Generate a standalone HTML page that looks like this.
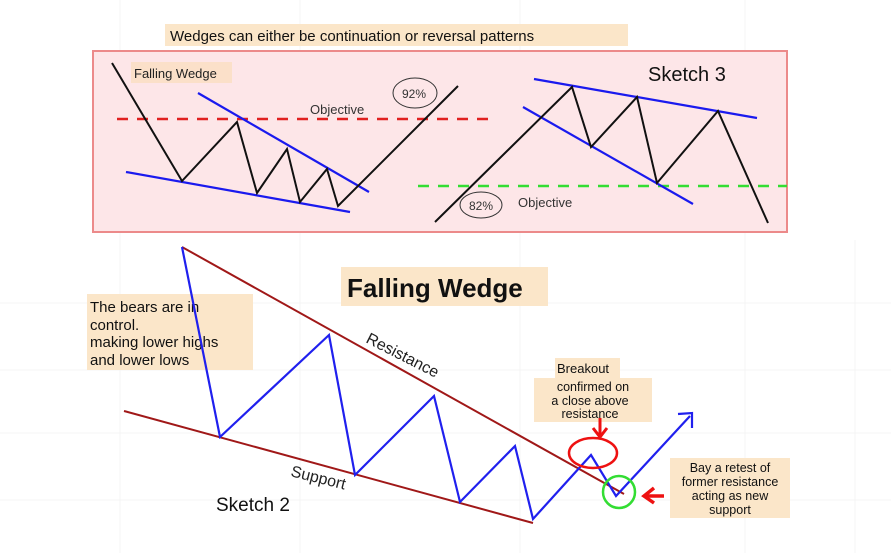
<!DOCTYPE html>
<html><head><meta charset="utf-8"><style>
body{margin:0;background:#fff;}
svg{display:block;font-family:"Liberation Sans","DejaVu Sans",sans-serif;}
</style></head><body>
<svg width="891" height="553" viewBox="0 0 891 553" xmlns="http://www.w3.org/2000/svg">
<g stroke="#f4f4f4" stroke-width="1">
<line x1="120" y1="0" x2="120" y2="553"/><line x1="300" y1="0" x2="300" y2="553"/><line x1="520" y1="0" x2="520" y2="553"/><line x1="745" y1="0" x2="745" y2="553"/><line x1="855" y1="240" x2="855" y2="553"/>
<line x1="0" y1="303" x2="891" y2="303"/><line x1="0" y1="370" x2="891" y2="370"/><line x1="0" y1="433" x2="891" y2="433"/><line x1="0" y1="500" x2="891" y2="500"/>
</g>
<rect x="165" y="24" width="463" height="22" fill="#fbe6c9"/>
<text x="170" y="41" font-size="15" fill="#111">Wedges can either be continuation or reversal patterns</text>
<rect x="93" y="51" width="694" height="181" fill="#fde6e8" stroke="#ec8a8a" stroke-width="2"/>
<rect x="131" y="62" width="101" height="21" fill="#fbe0c9"/>
<text x="134" y="78" font-size="13" fill="#222">Falling Wedge</text>
<line x1="117" y1="119" x2="488" y2="119" stroke="#e02020" stroke-width="2.5" stroke-dasharray="11,9"/>
<line x1="418" y1="186" x2="787" y2="186" stroke="#33dd33" stroke-width="2.5" stroke-dasharray="11,9"/>
<text x="310" y="114" font-size="13" fill="#333">Objective</text>
<ellipse cx="415" cy="93" rx="22" ry="15" fill="none" stroke="#333" stroke-width="1"/>
<text x="402" y="98" font-size="12" fill="#333">92%</text>
<g stroke="#1a1aee" stroke-width="2.2" fill="none">
<line x1="198" y1="93" x2="369" y2="192"/><line x1="126" y1="172" x2="350" y2="212"/>
<line x1="534" y1="79" x2="757" y2="118"/><line x1="523" y1="107" x2="693" y2="204"/>
</g>
<polyline points="112,63 182,181 237,122 257,193 287,149 300,202 327,169 338,206 458,86" fill="none" stroke="#111" stroke-width="2"/>
<polyline points="435,222 572,87 591,147 637,97 657,183 718,111 768,223" fill="none" stroke="#111" stroke-width="2"/>
<ellipse cx="481" cy="205" rx="21" ry="13" fill="none" stroke="#333" stroke-width="1"/>
<text x="469" y="210" font-size="12" fill="#333">82%</text>
<text x="518" y="207" font-size="13" fill="#333">Objective</text>
<text x="648" y="81" font-size="20" fill="#111">Sketch 3</text>

<rect x="341" y="267" width="207" height="39" fill="#fbe6c9"/>
<text x="347" y="297" font-size="26" font-weight="bold" fill="#111">Falling Wedge</text>
<rect x="87" y="294" width="166" height="76" fill="#fbe6c9"/>
<g font-size="15" fill="#111"><text x="90" y="312">The bears are in</text><text x="90" y="330">control.</text><text x="90" y="347">making lower highs</text><text x="90" y="365">and lower lows</text></g>
<line x1="182" y1="247" x2="624" y2="494" stroke="#a01818" stroke-width="2"/>
<line x1="124" y1="411" x2="533" y2="523" stroke="#a01818" stroke-width="2"/>
<polyline points="182,247 220,437 329,335 355,475 434,396 460,502 515,446 533,519 591,455 616,496 690,416" fill="none" stroke="#2020ee" stroke-width="2.2"/>
<polyline points="678,414 692,413 692,428" fill="none" stroke="#2020ee" stroke-width="2.2"/>
<text transform="translate(365,342) rotate(27)" font-size="16" fill="#222">Resistance</text>
<text transform="translate(290,476) rotate(14)" font-size="16" fill="#222">Support</text>
<text x="216" y="511" font-size="19" fill="#111">Sketch 2</text>
<rect x="555" y="358" width="65" height="20" fill="#fbe6c9"/>
<text x="557" y="373" font-size="13" fill="#111">Breakout</text>
<rect x="534" y="378" width="118" height="44" fill="#fbe6c9"/>
<g font-size="12.5" fill="#111" text-anchor="middle"><text x="593" y="391">confirmed on</text><text x="590" y="405">a close above</text><text x="590" y="418">resistance</text></g>
<ellipse cx="593" cy="453" rx="24" ry="15" fill="none" stroke="#ee1111" stroke-width="2.5"/>
<line x1="600" y1="418" x2="600" y2="436" stroke="#ee1111" stroke-width="3"/>
<polyline points="593,428 600,437 607,428" fill="none" stroke="#ee1111" stroke-width="3"/>
<circle cx="619" cy="492" r="16" fill="none" stroke="#33dd33" stroke-width="2.5"/>
<line x1="644" y1="496" x2="664" y2="496" stroke="#ee1111" stroke-width="3.5"/>
<polyline points="654,488 644,496 654,503" fill="none" stroke="#ee1111" stroke-width="3.5"/>
<rect x="670" y="458" width="120" height="60" fill="#fbe6c9"/>
<g font-size="12.5" fill="#111" text-anchor="middle"><text x="730" y="472">Bay a retest of</text><text x="730" y="486">former resistance</text><text x="730" y="500">acting as new</text><text x="730" y="514">support</text></g>
</svg>
</body></html>
